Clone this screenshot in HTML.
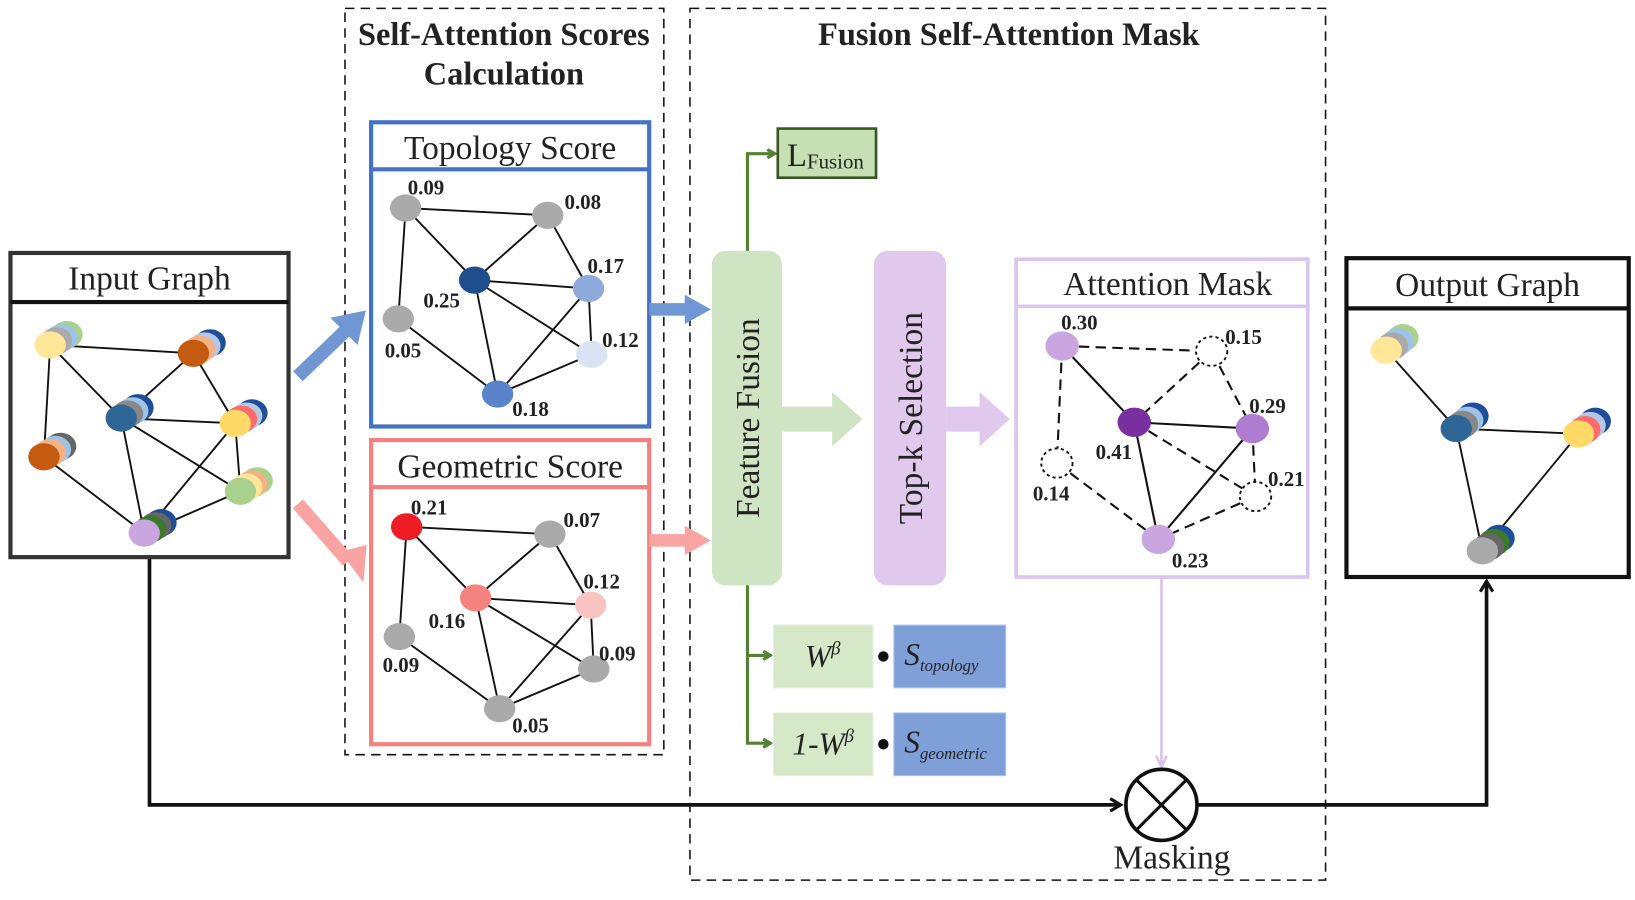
<!DOCTYPE html>
<html><head><meta charset="utf-8"><style>
html,body{margin:0;padding:0;background:#fff;}
svg{display:block;font-family:"Liberation Serif",serif;}
.lbl{font-weight:bold;font-size:20px;fill:#222;}
.ttl{font-size:32px;fill:#222;text-anchor:middle;}
.e{stroke:#111;fill:none;}
.d{stroke:#111;stroke-width:2;fill:none;stroke-dasharray:10,6;}
</style></head><body>
<svg width="1635" height="900" viewBox="0 0 1564 861" preserveAspectRatio="none" xmlns="http://www.w3.org/2000/svg">
<defs>
<marker id="ag" markerWidth="10" markerHeight="10" refX="8" refY="5" orient="auto" markerUnits="userSpaceOnUse"><path d="M1,1 L8,5 L1,9" fill="none" stroke="#548235" stroke-width="3"/></marker>
<marker id="ak" markerWidth="14" markerHeight="14" refX="11" refY="7" orient="auto" markerUnits="userSpaceOnUse"><path d="M1,1 L11,7 L1,13" fill="none" stroke="#111" stroke-width="3"/></marker>
<marker id="ap" markerWidth="14" markerHeight="12" refX="12" refY="6" orient="auto" markerUnits="userSpaceOnUse"><path d="M1,1 L12,6 L1,11" fill="none" stroke="#d9c3ec" stroke-width="2.5"/></marker>
</defs>

<rect x="330" y="8" width="305" height="714" fill="none" stroke="#111" stroke-width="1.5" stroke-dasharray="9,6"/>
<rect x="660" y="8" width="608" height="834" fill="none" stroke="#111" stroke-width="1.5" stroke-dasharray="9,6"/>
<text x="482" y="43" font-size="31" font-weight="bold" text-anchor="middle" fill="#222">Self-Attention Scores</text>
<text x="482" y="81" font-size="31" font-weight="bold" text-anchor="middle" fill="#222">Calculation</text>
<text x="965" y="43" font-size="31" font-weight="bold" text-anchor="middle" fill="#222">Fusion Self-Attention Mask</text>

<polyline points="143,533 143,770 1072,770" fill="none" stroke="#111" stroke-width="3.5" marker-end="url(#ak)"/>
<polyline points="1146,770 1422,770 1422,556" fill="none" stroke="#111" stroke-width="3.5" marker-end="url(#ak)"/>

<!-- Input Graph -->
<rect x="10" y="242" width="266" height="291" fill="#fff" stroke="#333" stroke-width="4"/>
<line x1="10" y1="289" x2="276" y2="289" stroke="#111" stroke-width="4"/>
<text x="143" y="277" class="ttl">Input Graph</text>
<g class="e" stroke-width="1.8">
<line x1="48" y1="330" x2="185" y2="338"/><line x1="48" y1="330" x2="116" y2="400"/><line x1="48" y1="330" x2="42" y2="437"/>
<line x1="185" y1="338" x2="116" y2="400"/><line x1="185" y1="338" x2="225" y2="405"/><line x1="116" y1="400" x2="225" y2="405"/>
<line x1="116" y1="400" x2="138" y2="510"/><line x1="116" y1="400" x2="230" y2="470"/><line x1="225" y1="405" x2="138" y2="510"/>
<line x1="225" y1="405" x2="230" y2="470"/><line x1="42" y1="437" x2="138" y2="510"/><line x1="230" y1="470" x2="138" y2="510"/>
</g>
<g>
<ellipse cx="64" cy="320" rx="15" ry="13" fill="#a9d18e"/><ellipse cx="59" cy="323" rx="15" ry="13" fill="#9dc3e6"/><ellipse cx="54" cy="326" rx="15" ry="13" fill="#aaa"/><ellipse cx="48" cy="330" rx="15" ry="13" fill="#ffe699"/>
<ellipse cx="201" cy="328" rx="15" ry="13" fill="#1f4e99"/><ellipse cx="196" cy="331" rx="15" ry="13" fill="#b4c7e7"/><ellipse cx="191" cy="334" rx="15" ry="13" fill="#f4b183"/><ellipse cx="185" cy="338" rx="15" ry="13" fill="#c55a11"/>
<ellipse cx="132" cy="390" rx="15" ry="13" fill="#1f4e99"/><ellipse cx="127" cy="393" rx="15" ry="13" fill="#9dc3e6"/><ellipse cx="122" cy="396" rx="15" ry="13" fill="#888"/><ellipse cx="116" cy="400" rx="15" ry="13" fill="#2e6695"/>
<ellipse cx="241" cy="395" rx="15" ry="13" fill="#1f4e99"/><ellipse cx="236" cy="398" rx="15" ry="13" fill="#b4c7e7"/><ellipse cx="231" cy="401" rx="15" ry="13" fill="#ff6b6b"/><ellipse cx="225" cy="405" rx="15" ry="13" fill="#ffd966"/>
<ellipse cx="58" cy="427" rx="15" ry="13" fill="#666"/><ellipse cx="53" cy="430" rx="15" ry="13" fill="#9dc3e6"/><ellipse cx="48" cy="433" rx="15" ry="13" fill="#f4b183"/><ellipse cx="42" cy="437" rx="15" ry="13" fill="#c55a11"/>
<ellipse cx="246" cy="460" rx="15" ry="13" fill="#a9d18e"/><ellipse cx="241" cy="463" rx="15" ry="13" fill="#f4b183"/><ellipse cx="236" cy="466" rx="15" ry="13" fill="#ffe699"/><ellipse cx="230" cy="470" rx="15" ry="13" fill="#a9d18e"/>
<ellipse cx="154" cy="500" rx="15" ry="13" fill="#1f4e99"/><ellipse cx="149" cy="503" rx="15" ry="13" fill="#666"/><ellipse cx="144" cy="506" rx="15" ry="13" fill="#3a7a2a"/><ellipse cx="138" cy="510" rx="15" ry="13" fill="#c9a6e0"/>
</g>

<line x1="285" y1="360" x2="332" y2="315" stroke="#7096d4" stroke-width="13"/>
<polygon points="350,297 316,304 342,330" fill="#7096d4"/>
<line x1="285" y1="482" x2="333" y2="537" stroke="#f9a3a3" stroke-width="13"/>
<polygon points="350,556 324,530 348,520" fill="#f9a3a3" transform="rotate(8 340 540)"/>

<!-- Topology Score -->
<rect x="355" y="117" width="266" height="291" fill="#fff" stroke="#4472c4" stroke-width="4"/>
<line x1="355" y1="162" x2="621" y2="162" stroke="#4472c4" stroke-width="4"/>
<text x="488" y="152" class="ttl">Topology Score</text>
<g class="e" stroke-width="1.8">
<line x1="388" y1="199" x2="524" y2="206"/><line x1="388" y1="199" x2="454" y2="268"/><line x1="388" y1="199" x2="381" y2="305"/>
<line x1="524" y1="206" x2="454" y2="268"/><line x1="524" y1="206" x2="563" y2="276"/><line x1="454" y1="268" x2="563" y2="276"/>
<line x1="454" y1="268" x2="476" y2="377"/><line x1="454" y1="268" x2="566" y2="339"/><line x1="563" y1="276" x2="476" y2="377"/>
<line x1="563" y1="276" x2="566" y2="339"/><line x1="381" y1="305" x2="476" y2="377"/><line x1="566" y1="339" x2="476" y2="377"/>
</g>
<ellipse cx="388" cy="199" rx="15" ry="13" fill="#aaa"/><ellipse cx="524" cy="206" rx="15" ry="13" fill="#aaa"/>
<ellipse cx="454" cy="268" rx="15" ry="13" fill="#1f4e8c"/><ellipse cx="563" cy="276" rx="15" ry="13" fill="#8eaadb"/>
<ellipse cx="381" cy="305" rx="15" ry="13" fill="#aaa"/><ellipse cx="566" cy="339" rx="15" ry="13" fill="#dae3f3"/>
<ellipse cx="476" cy="377" rx="15" ry="13" fill="#5b83cc"/>
<text class="lbl" x="390" y="186">0.09</text><text class="lbl" x="540" y="200">0.08</text><text class="lbl" x="562" y="261">0.17</text>
<text class="lbl" x="405" y="294">0.25</text><text class="lbl" x="368" y="342">0.05</text><text class="lbl" x="576" y="332">0.12</text><text class="lbl" x="490" y="398">0.18</text>

<!-- Geometric Score -->
<rect x="355" y="421" width="266" height="291" fill="#fff" stroke="#f48080" stroke-width="4"/>
<line x1="355" y1="466" x2="621" y2="466" stroke="#f48080" stroke-width="4"/>
<text x="488" y="457" class="ttl">Geometric Score</text>
<g class="e" stroke-width="1.8">
<line x1="389" y1="504" x2="526" y2="511"/><line x1="389" y1="504" x2="455" y2="572"/><line x1="389" y1="504" x2="382" y2="609"/>
<line x1="526" y1="511" x2="455" y2="572"/><line x1="526" y1="511" x2="565" y2="579"/><line x1="455" y1="572" x2="565" y2="579"/>
<line x1="455" y1="572" x2="478" y2="678"/><line x1="455" y1="572" x2="568" y2="640"/><line x1="565" y1="579" x2="478" y2="678"/>
<line x1="565" y1="579" x2="568" y2="640"/><line x1="382" y1="609" x2="478" y2="678"/><line x1="568" y1="640" x2="478" y2="678"/>
</g>
<ellipse cx="389" cy="504" rx="15" ry="13" fill="#ee1c25"/><ellipse cx="526" cy="511" rx="15" ry="13" fill="#aaa"/>
<ellipse cx="455" cy="572" rx="15" ry="13" fill="#f4837d"/><ellipse cx="565" cy="579" rx="15" ry="13" fill="#f8c3c0"/>
<ellipse cx="382" cy="609" rx="15" ry="13" fill="#aaa"/><ellipse cx="568" cy="640" rx="15" ry="13" fill="#aaa"/>
<ellipse cx="478" cy="678" rx="15" ry="13" fill="#aaa"/>
<text class="lbl" x="393" y="492">0.21</text><text class="lbl" x="539" y="504">0.07</text><text class="lbl" x="558" y="563">0.12</text>
<text class="lbl" x="410" y="601">0.16</text><text class="lbl" x="366" y="643">0.09</text><text class="lbl" x="573" y="632">0.09</text><text class="lbl" x="490" y="701">0.05</text>

<rect x="621" y="290" width="36" height="12" fill="#7096d4"/><polygon points="655,282 680,296 655,310" fill="#7096d4"/>
<rect x="621" y="511" width="36" height="12" fill="#f9a3a3"/><polygon points="655,503 680,517 655,531" fill="#f9a3a3"/>

<!-- Feature Fusion & Top-k -->
<rect x="681" y="240" width="67" height="320" rx="13" fill="#cfe4c2"/>
<text transform="translate(726,400) rotate(-90)" font-size="32" text-anchor="middle" fill="#222">Feature Fusion</text>
<rect x="748" y="389" width="50" height="24" fill="#cfe4c2"/><polygon points="796,375 825,401 796,427" fill="#cfe4c2"/>
<rect x="836" y="240" width="69" height="320" rx="13" fill="#e0c9ec"/>
<text transform="translate(882,400) rotate(-90)" font-size="32" text-anchor="middle" fill="#222">Top-k Selection</text>
<rect x="905" y="389" width="34" height="24" fill="#e0c9ec"/><polygon points="937,375 966,401 937,427" fill="#e0c9ec"/>

<polyline points="715,240 715,147 741,147" fill="none" stroke="#548235" stroke-width="3" marker-end="url(#ag)"/>
<rect x="744" y="123" width="94" height="47" fill="#c6e0b4" stroke="#375623" stroke-width="2.5"/>
<text x="753" y="159" font-size="31" fill="#222">L<tspan font-size="20" dy="2">Fusion</tspan></text>

<polyline points="715,560 715,711 737,711" fill="none" stroke="#548235" stroke-width="3" marker-end="url(#ag)"/>
<polyline points="715,627 737,627" fill="none" stroke="#548235" stroke-width="3" marker-end="url(#ag)"/>
<rect x="740" y="598" width="95" height="60" fill="#d5e8c8" stroke="#e4eedb"/>
<rect x="855" y="598" width="107" height="60" fill="#7f9fd9" stroke="#b0c4e8"/>
<rect x="740" y="682" width="95" height="60" fill="#d5e8c8" stroke="#e4eedb"/>
<rect x="855" y="682" width="107" height="60" fill="#7f9fd9" stroke="#b0c4e8"/>
<circle cx="845" cy="628" r="5" fill="#111"/><circle cx="845" cy="712" r="5" fill="#111"/>
<text x="770" y="638" font-size="30" font-style="italic" fill="#222">W<tspan font-size="18" dy="-12">β</tspan></text>
<text x="758" y="722" font-size="30" font-style="italic" fill="#222">1-W<tspan font-size="18" dy="-12">β</tspan></text>
<text x="865" y="636" font-size="30" font-style="italic" fill="#222">S<tspan font-size="16" dy="6">topology</tspan></text>
<text x="865" y="720" font-size="30" font-style="italic" fill="#222">S<tspan font-size="16" dy="6">geometric</tspan></text>

<!-- Attention Mask -->
<rect x="972" y="248" width="279" height="304" fill="#fff" stroke="#dac5ee" stroke-width="3.5"/>
<line x1="972" y1="293" x2="1251" y2="293" stroke="#dac5ee" stroke-width="3.5"/>
<text x="1117" y="282" class="ttl">Attention Mask</text>
<g>
<line class="d" x1="1016" y1="331" x2="1159" y2="336"/><line class="d" x1="1016" y1="331" x2="1011" y2="443"/>
<line class="d" x1="1159" y1="336" x2="1085" y2="404"/><line class="d" x1="1159" y1="336" x2="1198" y2="410"/>
<line class="d" x1="1011" y1="443" x2="1108" y2="516"/><line class="d" x1="1085" y1="404" x2="1201" y2="475"/>
<line class="d" x1="1198" y1="410" x2="1201" y2="475"/><line class="d" x1="1201" y1="475" x2="1108" y2="516"/>
<line class="e" stroke-width="2" x1="1016" y1="331" x2="1085" y2="404"/><line class="e" stroke-width="2" x1="1085" y1="404" x2="1198" y2="410"/>
<line class="e" stroke-width="2" x1="1085" y1="404" x2="1108" y2="516"/><line class="e" stroke-width="2" x1="1198" y1="410" x2="1108" y2="516"/>
</g>
<ellipse cx="1016" cy="331" rx="16" ry="14" fill="#c9a6e0"/>
<ellipse cx="1159" cy="336" rx="15" ry="14" fill="#fff" stroke="#111" stroke-width="1.8" stroke-dasharray="3,3"/>
<ellipse cx="1085" cy="404" rx="16" ry="14" fill="#7a2fa0"/>
<ellipse cx="1198" cy="410" rx="16" ry="14" fill="#b07cd2"/>
<ellipse cx="1011" cy="443" rx="15" ry="14" fill="#fff" stroke="#111" stroke-width="1.8" stroke-dasharray="3,3"/>
<ellipse cx="1201" cy="475" rx="15" ry="14" fill="#fff" stroke="#111" stroke-width="1.8" stroke-dasharray="3,3"/>
<ellipse cx="1108" cy="516" rx="16" ry="14" fill="#c9a6e0"/>
<text class="lbl" x="1015" y="315">0.30</text><text class="lbl" x="1172" y="329">0.15</text><text class="lbl" x="1195" y="395">0.29</text>
<text class="lbl" x="1048" y="439">0.41</text><text class="lbl" x="988" y="479">0.14</text><text class="lbl" x="1213" y="465">0.21</text><text class="lbl" x="1121" y="543">0.23</text>

<line x1="1111" y1="552" x2="1111" y2="734" stroke="#d9c3ec" stroke-width="2.5" marker-end="url(#ap)"/>

<circle cx="1111" cy="770" r="34" fill="#fff" stroke="#111" stroke-width="3.5"/>
<line x1="1087" y1="746" x2="1135" y2="794" stroke="#111" stroke-width="3"/>
<line x1="1135" y1="746" x2="1087" y2="794" stroke="#111" stroke-width="3"/>
<text x="1121" y="831" class="ttl">Masking</text>

<!-- Output Graph -->
<rect x="1288" y="247" width="270" height="305" fill="#fff" stroke="#111" stroke-width="4"/>
<line x1="1288" y1="295" x2="1558" y2="295" stroke="#111" stroke-width="4"/>
<text x="1423" y="283" class="ttl">Output Graph</text>
<g class="e" stroke-width="1.8">
<line x1="1326" y1="335" x2="1393" y2="410"/><line x1="1393" y1="410" x2="1510" y2="415"/>
<line x1="1393" y1="410" x2="1418" y2="527"/><line x1="1510" y1="415" x2="1418" y2="527"/>
</g>
<ellipse cx="1342" cy="323" rx="15" ry="13" fill="#a9d18e"/><ellipse cx="1337" cy="327" rx="15" ry="13" fill="#9dc3e6"/><ellipse cx="1332" cy="331" rx="15" ry="13" fill="#aaa"/><ellipse cx="1326" cy="335" rx="15" ry="13" fill="#ffe699"/>
<ellipse cx="1409" cy="398" rx="15" ry="13" fill="#1f4e99"/><ellipse cx="1404" cy="402" rx="15" ry="13" fill="#9dc3e6"/><ellipse cx="1399" cy="406" rx="15" ry="13" fill="#888"/><ellipse cx="1393" cy="410" rx="15" ry="13" fill="#2e6695"/>
<ellipse cx="1526" cy="403" rx="15" ry="13" fill="#1f4e99"/><ellipse cx="1521" cy="407" rx="15" ry="13" fill="#b4c7e7"/><ellipse cx="1516" cy="411" rx="15" ry="13" fill="#ff6b6b"/><ellipse cx="1510" cy="415" rx="15" ry="13" fill="#ffd966"/>
<ellipse cx="1434" cy="515" rx="15" ry="13" fill="#1f4e99"/><ellipse cx="1429" cy="519" rx="15" ry="13" fill="#3a7a2a"/><ellipse cx="1424" cy="523" rx="15" ry="13" fill="#666"/><ellipse cx="1418" cy="527" rx="15" ry="13" fill="#aaa"/>
</svg>
</body></html>
